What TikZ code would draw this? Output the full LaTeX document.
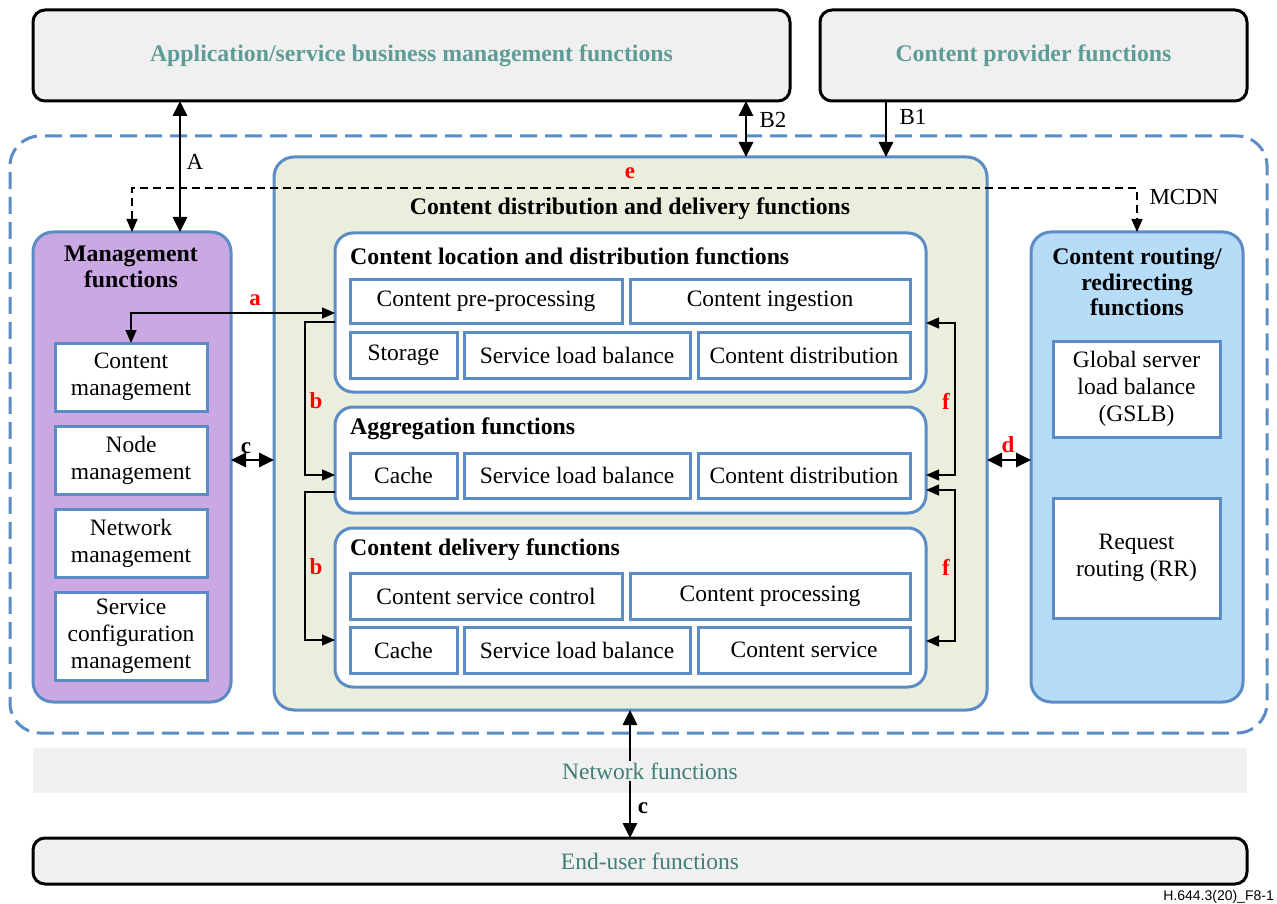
\documentclass[tikz,border=0pt]{standalone}
\usepackage{fontspec}
\setmainfont{Liberation Serif}
\newfontfamily\figsans{Liberation Sans}
\usetikzlibrary{arrows.meta}
\definecolor{cblue}{HTML}{5B8CC6}
\definecolor{teala}{HTML}{5E9C97}
\definecolor{tealb}{HTML}{407E7A}
\definecolor{gbg}{HTML}{F0F0F0}
\definecolor{purp}{HTML}{C9A8E3}
\definecolor{grn}{HTML}{EAEEDD}
\definecolor{lblue}{HTML}{B6DCF8}
\definecolor{cred}{HTML}{FF0000}
\tikzset{
  base/.style={inner sep=0pt, outer sep=0pt, align=center},
  sz/.style 2 args={minimum width=#1pt, minimum height=#2pt},
  topbox/.style={base, draw=black, line width=3pt, rounded corners=12pt, fill=gbg},
  outerbox/.style={base, draw=cblue, line width=3pt, rounded corners=30pt, dash pattern=on 17pt off 8pt},
  panel/.style={base, draw=cblue, line width=3pt, rounded corners=20pt},
  innerbox/.style={base, draw=cblue, line width=3pt, rounded corners=18pt, fill=white},
  subbox/.style={base, draw=cblue, line width=3pt, fill=white, font=\fontsize{23.5}{27}\selectfont},
  ttl/.style={inner sep=0pt, font=\fontsize{23.8}{26}\selectfont\bfseries, align=center},
  bigarr/.style={line width=2.8pt, {Triangle[length=15pt,width=14pt]}-{Triangle[length=15pt,width=14pt]}},
  bigone/.style={line width=2.8pt, -{Triangle[length=15pt,width=14pt]}},
  thinarr/.style={line width=1.3pt, {Triangle[length=13pt,width=11pt]}-{Triangle[length=13pt,width=11pt]}},
  thinone/.style={line width=1.3pt, -{Triangle[length=13pt,width=11pt]}},
  edash/.style={line width=1.4pt, dash pattern=on 8pt off 5pt, {Triangle[length=13pt,width=11pt]}-{Triangle[length=13pt,width=11pt]}},
  rlab/.style={inner sep=0pt, text=cred, font=\fontsize{23}{26}\selectfont\bfseries},
  klab/.style={inner sep=0pt, font=\fontsize{23}{26}\selectfont},
  kbold/.style={inner sep=0pt, font=\fontsize{23}{26}\selectfont\bfseries},
}
\begin{document}
\begin{tikzpicture}[x=1pt,y=-1pt]
\useasboundingbox (0,0) rectangle (1277,904);

% top boxes
\node[topbox, sz={757}{91}, text=teala, font=\fontsize{23.8}{26}\selectfont\bfseries] (app) at (411.5,55.5) {Application/service business management functions};
\node[topbox, sz={427}{91}, text=teala, font=\fontsize{23.8}{26}\selectfont\bfseries] (cp) at (1033.5,55.5) {Content provider functions};

% outer dashed MCDN area
\node[outerbox, sz={1257}{597}] (mcdn) at (638.5,434.5) {};

% management
\node[panel, fill=purp, sz={198}{470}] (mgmt) at (132,467) {};
\node[ttl] (mgmtt) at (131,267) {Management\\functions};
\node[subbox, sz={152}{68}] (cm) at (131,377) {Content\\management};
\node[subbox, sz={152}{68}] (nm) at (131,460) {Node\\management};
\node[subbox, sz={152}{68}] (nwm) at (131,543) {Network\\management};
\node[subbox, sz={152}{88}] (scm) at (131,636) {Service\\configuration\\management};

% content distribution and delivery
\node[panel, fill=grn, sz={713}{553}] (cdd) at (630.5,433.5) {};
\node[ttl] (cddt) at (630,209) {Content distribution and delivery functions};

\node[innerbox, sz={591}{159}] (loc) at (630.5,312.5) {};
\node[ttl, anchor=west] (loct) at (350,256) {Content location and distribution functions};
\node[subbox, sz={272}{44}] (l1) at (486,301) {Content pre-processing};
\node[subbox, sz={280}{44}] (l2) at (770,301) {Content ingestion};
\node[subbox, sz={107}{46}] (l3) at (403.5,355) {Storage};
\node[subbox, sz={226}{46}] (l4) at (577,355) {Service load balance};
\node[subbox, sz={212}{46}] (l5) at (804,355) {Content distribution};

\node[innerbox, sz={591}{106}] (agg) at (630.5,460) {};
\node[ttl, anchor=west] (aggt) at (350,429) {Aggregation functions};
\node[subbox, sz={107}{45}] (a1) at (403.5,475.5) {Cache};
\node[subbox, sz={226}{45}] (a2) at (577,475.5) {Service load balance};
\node[subbox, sz={212}{45}] (a3) at (804,475.5) {Content distribution};

\node[innerbox, sz={591}{159}] (del) at (630.5,607.5) {};
\node[ttl, anchor=west] (delt) at (350,550) {Content delivery functions};
\node[subbox, sz={272}{46}] (d1) at (486,596) {Content service control};
\node[subbox, sz={280}{46}] (d2) at (770,596) {Content processing};
\node[subbox, sz={107}{46}] (d3) at (403.5,650) {Cache};
\node[subbox, sz={226}{46}] (d4) at (577,650) {Service load balance};
\node[subbox, sz={212}{46}] (d5) at (804,650) {Content service};

% routing
\node[panel, fill=lblue, sz={212}{470}] (rout) at (1137,467) {};
\node[ttl, font=\fontsize{23.8}{25.5}\selectfont\bfseries] (routt) at (1137,282) {Content routing/\\redirecting\\functions};
\node[subbox, sz={167}{96}] (gslb) at (1136.5,389) {Global server\\load balance\\(GSLB)};
\node[subbox, sz={167}{120}] (rr) at (1136.5,558) {Request\\routing (RR)};

% network band and end-user
\node[base, fill=gbg, sz={1214}{45}] (net) at (640,770.5) {};
\node[topbox, sz={1214}{46}] (eu) at (640,861) {};
\node[inner sep=0pt, text=tealb, font=\fontsize{23.5}{26}\selectfont] (eut) at (650,861) {End-user functions};

% connectors
\draw[bigarr] (180,0 |- app.south) -- (180,0 |- mgmt.north);
\node[klab] (lA) at (195,162) {A};
\draw[bigarr] (746,0 |- app.south) -- (746,0 |- cdd.north);
\node[klab] (lB2) at (773,120) {B2};
\draw[bigone] (886,0 |- cp.south) -- (886,0 |- cdd.north);
\node[klab] (lB1) at (913,117) {B1};

\draw[edash] (mgmt.north) -- (mgmt.north |- 0,188) -| (rout.north);
\node[rlab] (le) at (630,173) {e};
\node[klab] (lm) at (1184,197) {MCDN};

\draw[thinarr] (cm.north) -- (cm.north |- 0,313) -- (loc.west |- 0,313);
\node[rlab] (la) at (255,300) {a};

\draw[thinone] (loc.west |- 0,322) -- (305,322) -- (305,475) -- (agg.west |- 0,475);
\draw[thinone] (agg.west |- 0,492) -- (305,492) -- (305,640) -- (del.west |- 0,640);
\node[rlab] (lb1) at (316,401) {b};
\node[rlab] (lb2) at (316,567) {b};

\draw[thinarr] (loc.east |- 0,323) -- (955,323) -- (955,475) -- (agg.east |- 0,475);
\draw[thinarr] (agg.east |- 0,490) -- (955,490) -- (955,641) -- (del.east |- 0,641);
\node[rlab] (lf1) at (946,401) {f};
\node[rlab] (lf2) at (946,567) {f};

\draw[bigarr] (mgmt.east |- 0,460) -- (cdd.west |- 0,460);
\node[kbold] (lc1) at (246,448) {c};
\draw[bigarr] (cdd.east |- 0,460) -- (rout.west |- 0,460);
\node[rlab] (ld) at (1008,445) {d};

\draw[bigarr] (630,0 |- cdd.south) -- (630,0 |- eu.north);
\node[fill=gbg, inner xsep=1pt, inner ysep=2pt, text=tealb, font=\fontsize{23.5}{26}\selectfont] (nett) at (650,771) {Network functions};
\node[kbold] (lc2) at (643,808) {c};

\node[inner sep=0pt, anchor=base east, font=\figsans\fontsize{14}{16}\selectfont] (fig) at (1274,900) {H.644.3(20)\_F8-1};
\end{tikzpicture}
\end{document}
